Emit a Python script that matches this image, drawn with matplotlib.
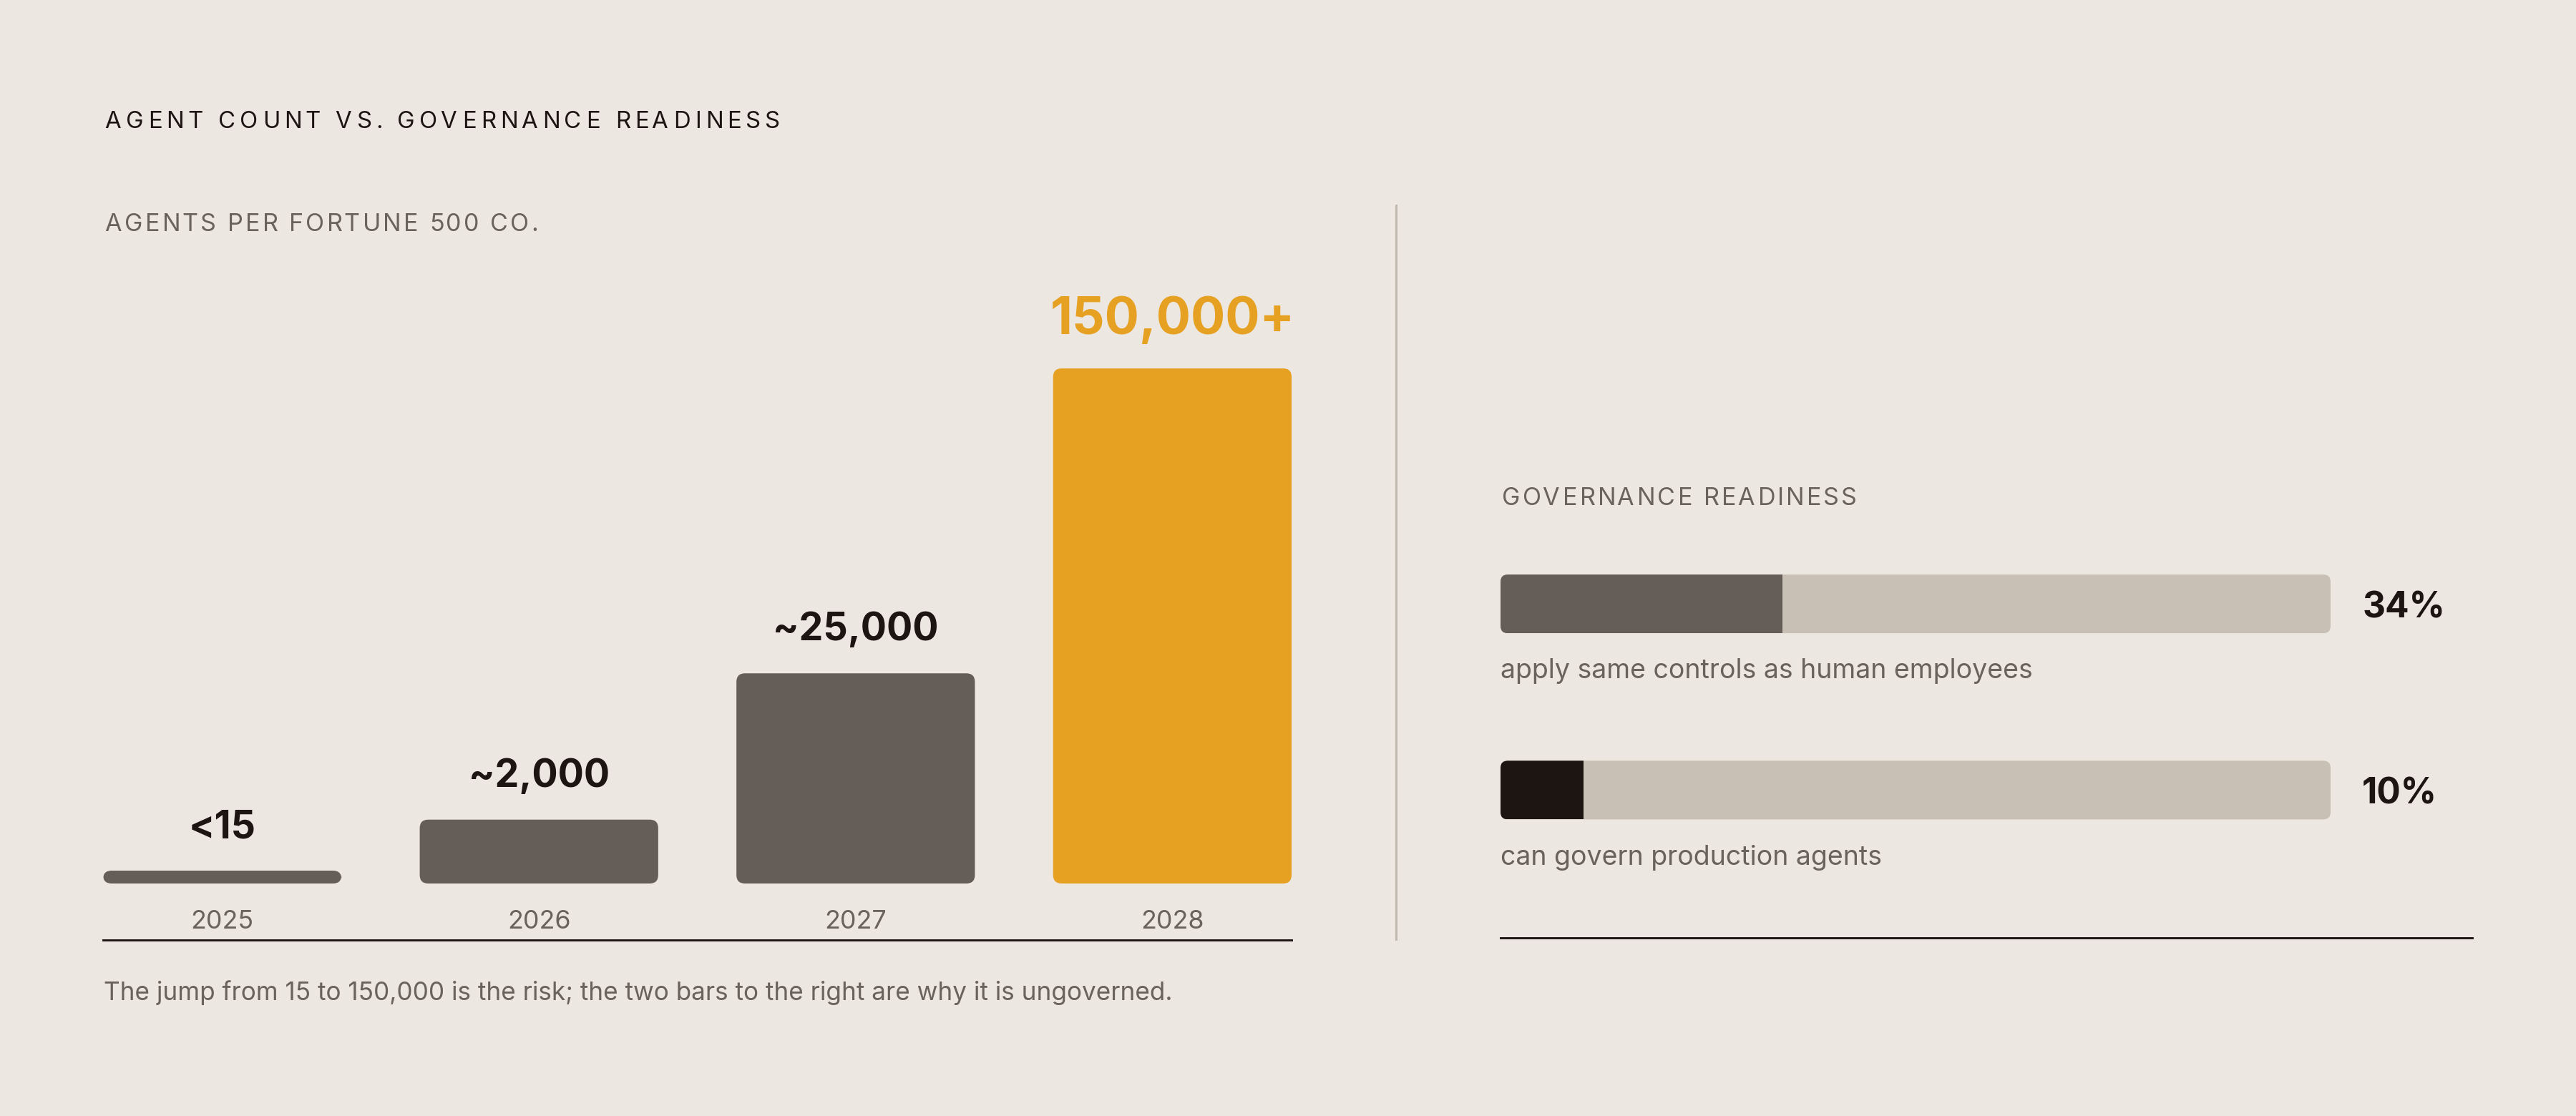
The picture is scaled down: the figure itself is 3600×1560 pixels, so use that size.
import numpy as np
import matplotlib
matplotlib.use("Agg")
import matplotlib.pyplot as plt
from matplotlib.patches import FancyBboxPatch, Rectangle
from matplotlib.lines import Line2D
from matplotlib.font_manager import FontProperties, findfont, get_font

# ---- data ----
years = ["2025", "2026", "2027", "2028"]
count_labels = ["<15", "~2,000", "~25,000", "150,000+"]
# bar heights as drawn, in % of the tallest bar (the chart is not linear in the counts)
bar_heights = [2.5, 12.4, 40.8, 100.0]

readiness_pct = [34, 10]
readiness_labels = ["apply same controls as human employees",
                    "can govern production agents"]

title = "AGENT COUNT VS. GOVERNANCE READINESS"
left_sub = "AGENTS PER FORTUNE 500 CO."
right_sub = "GOVERNANCE READINESS"
footnote = "The jump from 15 to 150,000 is the risk; the two bars to the right are why it is ungoverned."

# ---- style ----
FONT = ["Inter", "DejaVu Sans"]
BG = "#ECE7E0"
DARK = "#1C1511"
GRAY_TXT = "#6A625C"
BAR = "#655D57"
ORANGE = "#E6A022"
TRACK = "#C8C0B4"
DIVIDER = "#BFB8AF"

W, H, DPI = 3600, 1560, 300
fig = plt.figure(figsize=(W / DPI, H / DPI), dpi=DPI, facecolor=BG)


def fx(px):
    return px / W


def fy(py):
    return 1 - py / H


def tracked_text(x_px, y_px, s, size, tracking_em, color, weight="normal"):
    # matplotlib has no letter-spacing, so place glyphs one by one
    prop = FontProperties(family=FONT, size=size, weight=weight)
    font = get_font(findfont(prop))
    font.set_size(size, DPI)
    x = x_px
    for ch in s:
        g = font.load_char(ord(ch))
        if ch != " ":
            fig.text(fx(x + g.horiBearingX / 64), fy(y_px), ch, fontproperties=prop,
                     color=color, ha="left", va="baseline")
        x += g.linearHoriAdvance / 65536 + tracking_em * size * DPI / 72


# ---- left: agent counts ----
bw = 0.753
ax = fig.add_axes([fx(144), fy(1314), fx(1805 - 144), (1314 - 515) / H])
ax.set_facecolor("none")
ax.set_xlim(-bw / 2, len(years) - 1 + bw / 2)
base_px, top_px = 79, 720  # bar base above axis line, tallest bar height
ax.set_ylim(-100 * base_px / top_px, 100)

x_per_px = (len(years) - 1 + bw) / (1805 - 144)
y_per_px = (100 + 100 * base_px / top_px) / (1314 - 515)

colors = [BAR, BAR, BAR, ORANGE]
bars = ax.bar(range(len(years)), bar_heights, width=bw)
for p, c in zip(list(bars.patches), colors):
    x0, y0, w, h = p.get_x(), p.get_y(), p.get_width(), p.get_height()
    p.remove()
    ax.add_patch(FancyBboxPatch((x0, y0), w, h,
                                boxstyle=f"round,pad=0,rounding_size={12 * x_per_px}",
                                mutation_aspect=y_per_px / x_per_px,
                                fc=c, ec="none"))

for i, (lab, h) in enumerate(zip(count_labels, bar_heights)):
    last = i == len(years) - 1
    ax.annotate(lab, (i, h), xytext=(0, 11.5 if last else 11), textcoords="offset points",
                ha="center", va="baseline", family=FONT, weight="bold",
                fontsize=17.2 if last else 12.9, color=ORANGE if last else DARK)
    ax.annotate(years[i], (i, 0), xytext=(0, -15.1), textcoords="offset points",
                ha="center", va="baseline", family=FONT, fontsize=8.6, color=GRAY_TXT)

for s in ["top", "left", "right"]:
    ax.spines[s].set_visible(False)
ax.spines["bottom"].set_color(DARK)
ax.spines["bottom"].set_linewidth(0.7)
ax.set_xticks([])
ax.set_yticks([])

# ---- divider ----
fig.add_artist(Line2D([fx(1951), fx(1951)], [fy(287), fy(1313)],
                      transform=fig.transFigure, color=DIVIDER, lw=0.7))

# ---- right: governance readiness ----
ax2 = fig.add_axes([fx(2097), fy(1310.5), fx(3455 - 2097), (1310.5 - 650) / H])
ax2.set_facecolor("none")
xmax2 = 100 * (3455 - 2097) / (3257 - 2097)
ax2.set_xlim(0, xmax2)
ax2.set_ylim(1.792, -0.746)
x2_per_px = xmax2 / (3455 - 2097)
y2_per_px = (1.792 + 0.746) / (1310.5 - 650)
th = 82 * y2_per_px
fills = [BAR, DARK]

for i, (pct, lab) in enumerate(zip(readiness_pct, readiness_labels)):
    track = FancyBboxPatch((0, i - th / 2), 100, th,
                           boxstyle=f"round,pad=0,rounding_size={10 * x2_per_px}",
                           mutation_aspect=y2_per_px / x2_per_px, fc=TRACK, ec="none")
    ax2.add_patch(track)
    fill = Rectangle((0, i - th / 2), pct, th, fc=fills[i], ec="none")
    ax2.add_patch(fill)
    fill.set_clip_path(track)
    ax2.annotate(f"{pct}%", (100, i), xytext=(10.6, -4.6), textcoords="offset points",
                 ha="left", va="baseline", family=FONT, weight="bold",
                 fontsize=11.9, color=DARK)
    ax2.annotate(lab, (0, i), xytext=(0, -25), textcoords="offset points",
                 ha="left", va="baseline", family=FONT, fontsize=9.0, color=GRAY_TXT)

for s in ["top", "left", "right"]:
    ax2.spines[s].set_visible(False)
ax2.spines["bottom"].set_color(DARK)
ax2.spines["bottom"].set_linewidth(0.7)
ax2.set_xticks([])
ax2.set_yticks([])

# ---- texts ----
tracked_text(145, 179, title, 7.9, 0.18, DARK)
tracked_text(145, 323, left_sub, 8.2, 0.09, GRAY_TXT)
tracked_text(2097, 706, right_sub, 8.2, 0.09, GRAY_TXT)
fig.text(fx(145), fy(1398), footnote, family=FONT, fontsize=8.45, color=GRAY_TXT,
         ha="left", va="baseline")

fig.savefig("out.png", dpi=DPI, facecolor=BG)
